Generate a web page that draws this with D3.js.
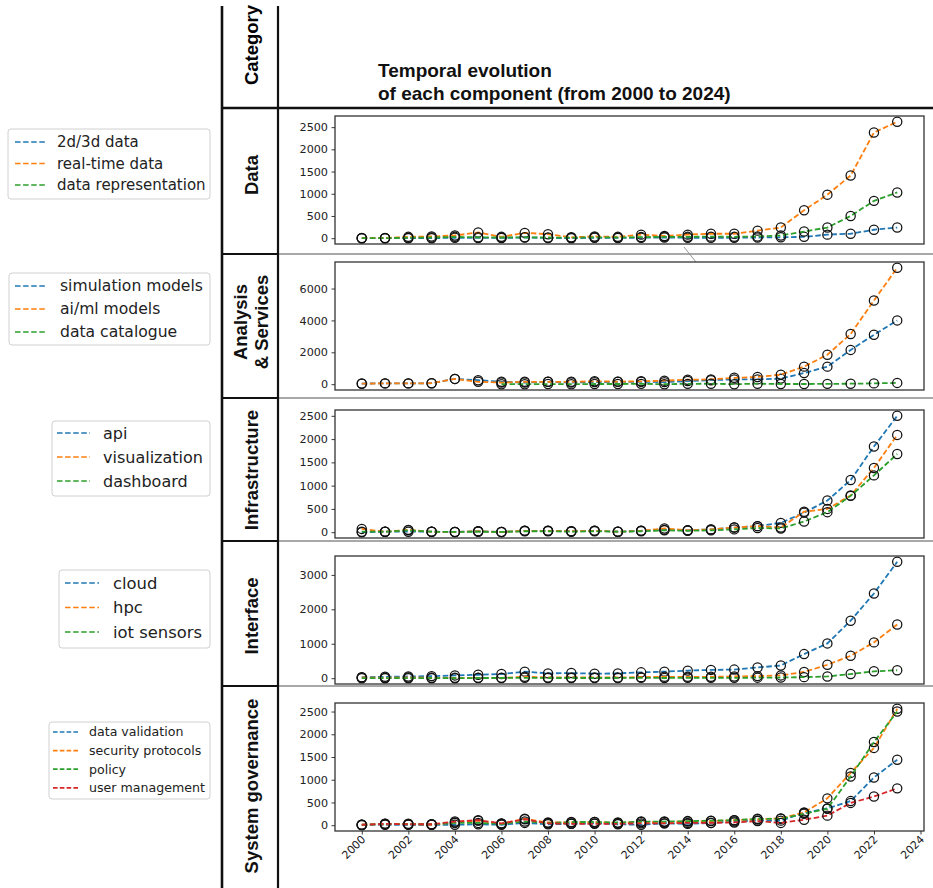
<!DOCTYPE html>
<html>
<head>
<meta charset="utf-8">
<script src="https://cdn.jsdelivr.net/npm/d3@7/dist/d3.min.js"></script>
<style>
  html, body { margin: 0; padding: 0; background: #fff; }
  svg { display: block; }
</style>
</head>
<body>
<script>
// ---- data -------------------------------------------------------------
const years = [2000, 2001, 2002, 2003, 2004, 2005, 2006, 2007, 2008, 2009, 2010, 2011,
               2012, 2013, 2014, 2015, 2016, 2017, 2018, 2019, 2020, 2021, 2022, 2023];
const yearTicks = [2000, 2002, 2004, 2006, 2008, 2010, 2012, 2014, 2016, 2018, 2020, 2022, 2024];

const categories = [["Data"], ["Analysis", "& Services"], ["Infrastructure"], ["Interface"], ["System governance"]];

// Data
const dataNames = ["2d/3d data", "real-time data", "data representation"];
const data2d3d      = [0, 0, 0, 0, 10, 5, 5, 15, 5, 0, 10, 5, 10, 15, 10, 10, 10, 15, 20, 30, 80, 100, 190, 240];
const dataRealTime  = [5, 5, 30, 40, 60, 130, 30, 120, 90, 20, 40, 30, 80, 50, 80, 100, 100, 170, 240, 630, 980, 1410, 2380, 2620];
const dataRepr      = [0, 0, 10, 15, 30, 20, 15, 20, 15, 10, 20, 15, 25, 30, 30, 35, 30, 40, 60, 150, 240, 500, 840, 1030];
const dataTicks = [0, 500, 1000, 1500, 2000, 2500];

// Analysis & Services
const analysisNames = ["simulation models", "ai/ml models", "data catalogue"];
const simModels  = [40, 50, 50, 60, 330, 250, 150, 100, 150, 100, 130, 150, 150, 130, 200, 250, 300, 300, 350, 700, 1100, 2150, 3100, 4000];
const aiModels   = [30, 50, 50, 60, 330, 150, 100, 150, 150, 150, 180, 160, 180, 220, 280, 300, 400, 450, 600, 1100, 1850, 3150, 5250, 7300];
const dataCatalogue = [null, null, null, null, null, null, 0, 0, 10, 0, 10, 10, 20, 0, 20, 30, 0, 30, 10, 10, 20, 30, 50, 80];
const analysisTicks = [0, 2000, 4000, 6000];

// Infrastructure
const infraNames = ["api", "visualization", "dashboard"];
const api           = [0, 10, 10, 10, 5, 20, 5, 30, 30, 20, 30, 10, 30, 50, 40, 60, 100, 130, 200, 420, 680, 1120, 1840, 2500];
const visualization = [70, 10, 50, 10, 5, 20, 5, 30, 30, 20, 30, 10, 30, 80, 40, 60, 100, 130, 100, 440, 500, 790, 1380, 2090];
const dashboard     = [10, 10, 40, 10, 5, 10, 5, 20, 20, 10, 20, 10, 20, 40, 30, 40, 60, 90, 80, 230, 430, 780, 1220, 1680];
const infraTicks = [0, 500, 1000, 1500, 2000, 2500];

// Interface
const interfaceNames = ["cloud", "hpc", "iot sensors"];
const cloud      = [30, 40, 50, 60, 80, 100, 120, 190, 140, 150, 130, 140, 170, 190, 220, 240, 250, 310, 370, 700, 1010, 1670, 2460, 3380];
const hpc        = [20, 10, 20, 10, 10, 10, 10, 40, 20, 20, 20, 20, 30, 40, 40, 40, 50, 60, 80, 180, 390, 650, 1040, 1560];
const iotSensors = [0, 0, 0, 0, 0, 5, 5, 10, 5, 5, 5, 5, 10, 5, 10, 10, 10, 15, 20, 30, 50, 120, 200, 230];
const interfaceTicks = [0, 1000, 2000, 3000];

// System governance
const governanceNames = ["data validation", "security protocols", "policy", "user management"];
const dataValidation = [0, 10, 10, 10, 10, 20, 10, 50, 20, 30, 40, 20, 10, 40, 30, 50, 80, 100, 100, 270, 370, 530, 1050, 1440];
const security       = [10, 20, 30, 10, 60, 100, 30, 140, 60, 60, 70, 50, 70, 70, 80, 90, 110, 130, 150, 280, 590, 1150, 1700, 2560];
const policy         = [10, 30, 20, 20, 50, 50, 30, 80, 50, 70, 70, 60, 80, 80, 90, 100, 110, 140, 140, 250, 360, 1070, 1830, 2500];
const userMgmt       = [10, 30, 20, 20, 80, 110, 40, 130, 40, 30, 30, 30, 40, 40, 50, 50, 60, 90, 50, 120, 210, 490, 630, 810];
const governanceTicks = [0, 500, 1000, 1500, 2000, 2500];

const palette = ["#1f77b4", "#ff7f0e", "#2ca02c", "#d62728"];

const panels = [
  { names: dataNames,       series: [data2d3d, dataRealTime, dataRepr],                   ticks: dataTicks },
  { names: analysisNames,   series: [simModels, aiModels, dataCatalogue],                 ticks: analysisTicks },
  { names: infraNames,      series: [api, visualization, dashboard],                      ticks: infraTicks },
  { names: interfaceNames,  series: [cloud, hpc, iotSensors],                             ticks: interfaceTicks },
  { names: governanceNames, series: [dataValidation, security, policy, userMgmt],         ticks: governanceTicks }
];

// ---- layout -----------------------------------------------------------
const W = 933, H = 888;
const colA = 222, colB = 278;               // category column borders
const rowLines = [254, 398, 541, 686];       // horizontal separators between rows
const plotLeft = 335, plotRight = 924;
const panelTops = [116, 262, 410, 556, 703];
const panelH = 128;
const catCenters = [175, 322, 470, 616, 786];

// legend boxes: x, y, w, h, font size, first row centre, row step, handle x0, x1, text x
const legendLayout = [
  { x: 8,  y: 129, w: 202, h: 70, fs: 15,   row0: 142, step: 21.5, h0: 15, h1: 45, tx: 57 },
  { x: 9,  y: 273, w: 201, h: 72, fs: 15.6, row0: 286, step: 23,   h0: 15, h1: 47, tx: 60 },
  { x: 52, y: 421, w: 158, h: 75, fs: 16,   row0: 433, step: 24,   h0: 57, h1: 90, tx: 103 },
  { x: 59, y: 570, w: 151, h: 78, fs: 16.4, row0: 583, step: 24.5, h0: 65, h1: 99, tx: 113 },
  { x: 49, y: 722, w: 161, h: 77, fs: 12.6, row0: 732, step: 18.6, h0: 53, h1: 78, tx: 89 }
];

const svg = d3.select("body").append("svg")
  .attr("width", W).attr("height", H)
  .attr("viewBox", `0 0 ${W} ${H}`);

const boldFont = "'Liberation Sans', Arial, Helvetica, sans-serif";
const plotFont = "'DejaVu Sans', Verdana, sans-serif";

// ---- table grid ---------------------------------------------------------
const grid = svg.append("g");
rowLines.forEach(y => {
  grid.append("line").attr("x1", colB).attr("x2", W).attr("y1", y).attr("y2", y)
    .attr("stroke", "#a8a8a8").attr("stroke-width", 2);
  grid.append("line").attr("x1", colA).attr("x2", colB).attr("y1", y).attr("y2", y)
    .attr("stroke", "#111").attr("stroke-width", 2);
});
grid.append("line").attr("x1", colA).attr("x2", W).attr("y1", 108).attr("y2", 108)
  .attr("stroke", "#111").attr("stroke-width", 2.5);
[colA, colB].forEach((x, i) => {
  grid.append("line").attr("x1", x).attr("x2", x).attr("y1", 6).attr("y2", H)
    .attr("stroke", "#111").attr("stroke-width", i === 0 ? 2.6 : 2.2);
});
// small connector stroke between the first two rows
grid.append("line").attr("x1", 684).attr("y1", 247).attr("x2", 696).attr("y2", 262)
  .attr("stroke", "#8a8a8a").attr("stroke-width", 0.9);

// ---- header -------------------------------------------------------------
const catX = (colA + colB) / 2 + 1;
svg.append("text")
  .attr("transform", `translate(${catX},45) rotate(-90)`)
  .attr("text-anchor", "middle").attr("dominant-baseline", "central")
  .style("font-family", boldFont).style("font-weight", "bold").style("font-size", "18.5px")
  .text("Category");

const title = svg.append("text")
  .style("font-family", boldFont).style("font-weight", "bold").style("font-size", "19px")
  .attr("fill", "#111");
title.append("tspan").attr("x", 378).attr("y", 77).text("Temporal evolution");
title.append("tspan").attr("x", 378).attr("y", 100).text("of each component (from 2000 to 2024)");

// ---- category labels ----------------------------------------------------
categories.forEach((lines, i) => {
  const t = svg.append("text")
    .attr("transform", `translate(${catX},${catCenters[i]}) rotate(-90)`)
    .attr("text-anchor", "middle")
    .style("font-family", boldFont).style("font-weight", "bold").style("font-size", "18.5px")
    .attr("fill", "#111");
  const lh = 21;
  lines.forEach((s, j) => {
    t.append("tspan").attr("x", 0)
      .attr("y", (j - (lines.length - 1) / 2) * lh + 6.5)
      .text(s);
  });
});

// ---- panels -------------------------------------------------------------
const x = d3.scaleLinear().domain([1998.85, 2024.15]).range([plotLeft, plotRight]);

panels.forEach((p, i) => {
  const top = panelTops[i], bottom = top + panelH;
  const all = p.series.flat().filter(v => v != null);
  const [lo, hi] = d3.extent(all);
  const pad = (hi - lo) * 0.05;
  const y = d3.scaleLinear().domain([lo - pad, hi + pad]).range([bottom, top]);

  const g = svg.append("g");

  // y axis
  const ya = g.append("g").attr("transform", `translate(${plotLeft},0)`)
    .call(d3.axisLeft(y).tickValues(p.ticks).tickSize(3.5).tickPadding(3.5).tickFormat(d3.format("d")));
  ya.select(".domain").remove();
  ya.selectAll("line").attr("stroke", "#222").attr("stroke-width", 0.9);
  ya.selectAll("text").style("font-family", plotFont).style("font-size", "11.2px").attr("fill", "#222");

  // series
  const line = d3.line().defined(d => d.v != null).x(d => x(d.t)).y(d => y(d.v));
  p.series.forEach((vals, k) => {
    const pts = years.map((t, j) => ({ t, v: vals[j] }));
    g.append("path").datum(pts).attr("d", line)
      .attr("fill", "none").attr("stroke", palette[k]).attr("stroke-width", 1.8)
      .attr("stroke-dasharray", "5.5,2.6");
    g.selectAll(null).data(pts.filter(d => d.v != null)).enter().append("circle")
      .attr("cx", d => x(d.t)).attr("cy", d => y(d.v)).attr("r", 4.6)
      .attr("fill", "none").attr("stroke", "#111").attr("stroke-width", 1.25);
  });

  // frame
  g.append("rect").attr("x", plotLeft).attr("y", top)
    .attr("width", plotRight - plotLeft).attr("height", panelH)
    .attr("fill", "none").attr("stroke", "#333").attr("stroke-width", 1.3);

  // x axis on the last panel only
  if (i === panels.length - 1) {
    const xa = g.append("g").attr("transform", `translate(0,${bottom})`)
      .call(d3.axisBottom(x).tickValues(yearTicks).tickSize(3.5).tickFormat(d3.format("d")));
    xa.select(".domain").remove();
    xa.selectAll("line").attr("stroke", "#222").attr("stroke-width", 0.9);
    xa.selectAll("text")
      .style("font-family", plotFont).style("font-size", "11px").attr("fill", "#222")
      .attr("text-anchor", "end").attr("dy", null).attr("y", 0)
      .attr("transform", "translate(4,9) rotate(-45)");
  }

  // legend
  const L = legendLayout[i];
  const lg = svg.append("g");
  lg.append("rect").attr("x", L.x).attr("y", L.y).attr("width", L.w).attr("height", L.h)
    .attr("rx", 3).attr("fill", "#fff").attr("stroke", "#d0d0d0").attr("stroke-width", 1);
  p.names.forEach((name, k) => {
    const cy = L.row0 + k * L.step;
    lg.append("line").attr("x1", L.h0).attr("x2", L.h1).attr("y1", cy).attr("y2", cy)
      .attr("stroke", palette[k]).attr("stroke-width", 1.7)
      .attr("stroke-dasharray", L.fs < 14 ? "4.6,2.2" : "5.5,2.6");
    lg.append("text").attr("x", L.tx).attr("y", cy).attr("dy", "0.35em")
      .style("font-family", plotFont).style("font-size", L.fs + "px").attr("fill", "#222")
      .text(name);
  });
});
</script>
</body>
</html>
